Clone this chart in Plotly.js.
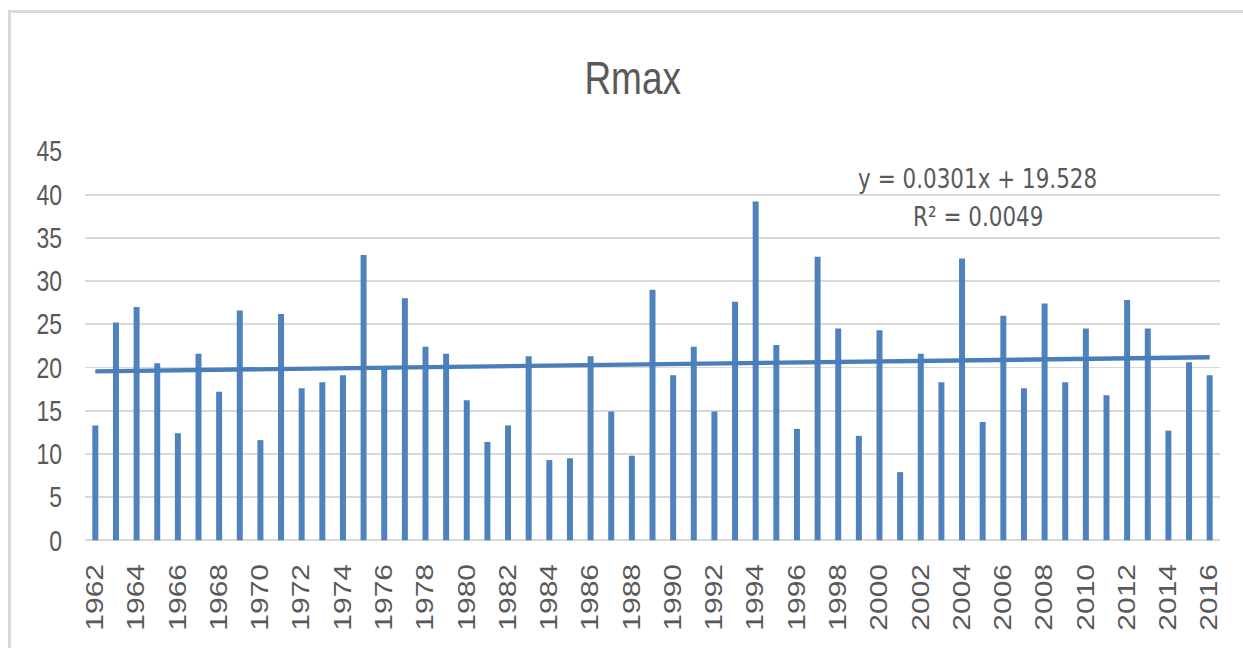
<!DOCTYPE html>
<html>
<head>
<meta charset="utf-8">
<script src="https://cdn.plot.ly/plotly-3.0.1.min.js"></script>
<style>
  html, body { margin: 0; padding: 0; background: #ffffff; overflow: hidden; }
  #wrap { position: absolute; left: 0; top: 0; width: 1243px; height: 518px;
          transform: scaleY(1.2510); transform-origin: 0 0; }
  #chart { width: 1243px; height: 518px; }
  #frame { position: absolute; left: 8px; top: 10px; right: 0; bottom: 0;
           border-top: 3px solid #d9d9d9; border-left: 3px solid #d9d9d9;
           pointer-events: none; z-index: 5; }
</style>
</head>
<body>
<div id="wrap"><div id="chart"></div></div>
<div id="frame"></div>
<script>
const years = ["1962","1963","1964","1965","1966","1967","1968","1969","1970","1971",
  "1972","1973","1974","1975","1976","1977","1978","1979","1980","1981",
  "1982","1983","1984","1985","1986","1987","1988","1989","1990","1991",
  "1992","1993","1994","1995","1996","1997","1998","1999","2000","2001",
  "2002","2003","2004","2005","2006","2007","2008","2009","2010","2011",
  "2012","2013","2014","2015","2016"];
const rmax = [13.3,25.2,27.0,20.5,12.4,21.6,17.2,26.6,11.6,26.2,
  17.6,18.3,19.1,33.0,19.9,28.0,22.4,21.6,16.2,11.4,
  13.3,21.3,9.3,9.5,21.3,14.9,9.8,29.0,19.1,22.4,
  14.9,27.6,39.2,22.6,12.9,32.8,24.5,12.1,24.3,7.9,
  21.6,18.3,32.6,13.7,26.0,17.6,27.4,18.3,24.5,16.8,
  27.8,24.5,12.7,20.6,19.1];
const trendSlope = 0.0301;
const trendIntercept = 19.528;
const equationText = "y = 0.0301x + 19.528";
const r2Text = "R² = 0.0049";
const tickLabels = years.filter((y, i) => i % 2 === 0);
const yTicks = [0,5,10,15,20,25,30,35,40,45];

const trendX = [years[0], years[years.length - 1]];
const trendY = [trendIntercept + trendSlope * 1, trendIntercept + trendSlope * years.length];

const txtColor = "#595959";
const font = "Liberation Sans, Arial, sans-serif";

const data = [
  { type: "bar", x: years, y: rmax, marker: { color: "#4f81bd" }, hoverinfo: "x+y" },
  { type: "scatter", mode: "lines", x: trendX, y: trendY,
    line: { color: "#4a7ebb", width: 3.5 }, hoverinfo: "skip" }
];

const layout = {
  width: 1243, height: 518,
  margin: { l: 85, r: 23, t: 121, b: 86 },
  paper_bgcolor: "rgba(0,0,0,0)",
  plot_bgcolor: "rgba(0,0,0,0)",
  showlegend: false,
  bargap: 0.71,
  title: { text: "Rmax", font: { family: font, size: 37, color: txtColor },
           x: 0.509, xref: "container", xanchor: "center",
           y: 0.880, yref: "container", yanchor: "middle" },
  xaxis: { type: "category", tickmode: "array", tickvals: tickLabels, ticktext: tickLabels,
           tickangle: -90, ticks: "", showgrid: false, showline: false, zeroline: false,
           ticklabelstandoff: 13,
           tickfont: { family: font, size: 24, color: txtColor } },
  yaxis: { range: [0, 45], tickmode: "array", tickvals: yTicks, ticks: "",
           showgrid: true, gridcolor: "#d9d9d9", gridwidth: 1.5,
           zeroline: true, zerolinecolor: "#d9d9d9", zerolinewidth: 1.5,
           showline: false, ticklabelstandoff: 22,
           tickfont: { family: font, size: 23, color: txtColor } },
  annotations: [
    { xref: "paper", yref: "paper", x: 0.786, y: 0.930, xanchor: "center", yanchor: "middle",
      text: equationText, showarrow: false,
      font: { family: "DejaVu Sans, sans-serif", size: 21.5, color: txtColor } },
    { xref: "paper", yref: "paper", x: 0.787, y: 0.830, xanchor: "center", yanchor: "middle",
      text: r2Text, showarrow: false,
      font: { family: "DejaVu Sans, sans-serif", size: 21.5, color: txtColor } }
  ]
};

Plotly.newPlot("chart", data, layout, { displayModeBar: false, staticPlot: true });
</script>
</body>
</html>
